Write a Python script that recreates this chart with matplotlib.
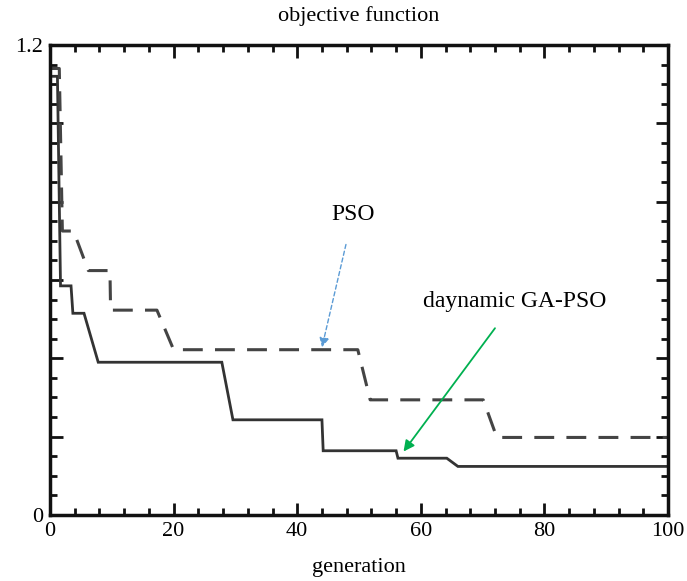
import matplotlib
matplotlib.use("Agg")
import matplotlib.pyplot as plt
from matplotlib.ticker import MultipleLocator, FixedFormatter, FixedLocator

plt.rcParams["font.family"] = ["Liberation Serif", "DejaVu Serif"]

# best objective value per generation (breakpoints of the step curves)
gen_ga = [0, 1.2, 1.7, 3.4, 3.7, 5.5, 7.8, 27.8, 29.6, 44.0, 44.2, 56.0, 56.3, 64.2, 66.0, 100]
obj_ga = [1.12, 1.12, 0.585, 0.585, 0.515, 0.515, 0.39, 0.39, 0.243, 0.243,
          0.164, 0.164, 0.145, 0.145, 0.124, 0.124]

gen_pso = [0, 1.5, 2.0, 3.8, 6.2, 9.7, 9.8, 17.3, 20.0, 49.8, 51.8, 70.1, 72.3, 100]
obj_pso = [1.14, 1.14, 0.725, 0.725, 0.624, 0.624, 0.523, 0.523, 0.422, 0.422,
           0.294, 0.294, 0.198, 0.198]

x_ticks = [0, 20, 40, 60, 80, 100]
y_ticks = [0, 0.2, 0.4, 0.6, 0.8, 1.0, 1.2]
y_labels = ["0", "", "", "", "", "", "1.2"]

fig = plt.figure(figsize=(6.87, 5.81), dpi=100)
ax = fig.add_axes([0.0728, 0.1136, 0.8996, 0.809])

ax.plot(gen_ga, obj_ga, color="#333333", lw=2.0, solid_joinstyle="miter")
ax.plot(gen_pso, obj_pso, color="#444444", lw=2.2, dashes=(6.5, 4))

ax.set_xlim(0, 100)
ax.set_ylim(0, 1.2)
ax.xaxis.set_major_locator(FixedLocator(x_ticks))
ax.xaxis.set_minor_locator(MultipleLocator(4))
ax.yaxis.set_major_locator(FixedLocator(y_ticks))
ax.yaxis.set_major_formatter(FixedFormatter(y_labels))
ax.yaxis.set_minor_locator(MultipleLocator(0.05))

ax.tick_params(which="both", direction="in", top=True, right=True,
               width=2.0, labelsize=16, color="#111111")
ax.tick_params(which="major", length=9, pad=5)
ax.tick_params(which="minor", length=5)
for s in ax.spines.values():
    s.set_linewidth(2.5)
    s.set_color("#111111")

ax.set_title("objective function", fontsize=16, pad=17)
ax.set_xlabel("generation", fontsize=16, labelpad=12)

# curve labels with arrows
ax.annotate("PSO", xy=(44.0, 0.428), xytext=(49.0, 0.766), fontsize=17,
            ha="center", va="center",
            arrowprops=dict(arrowstyle="-|>", color="#5b9bd5", lw=1.0,
                            linestyle=(0, (3, 2)), mutation_scale=14,
                            shrinkA=12, shrinkB=0))
ax.annotate("daynamic GA-PSO", xy=(57.2, 0.162), xytext=(75.2, 0.545),
            fontsize=17, ha="center", va="center",
            arrowprops=dict(arrowstyle="-|>", color="#00b050", lw=1.3,
                            mutation_scale=16, shrinkA=12, shrinkB=0))

fig.savefig("out.png", dpi=100)
